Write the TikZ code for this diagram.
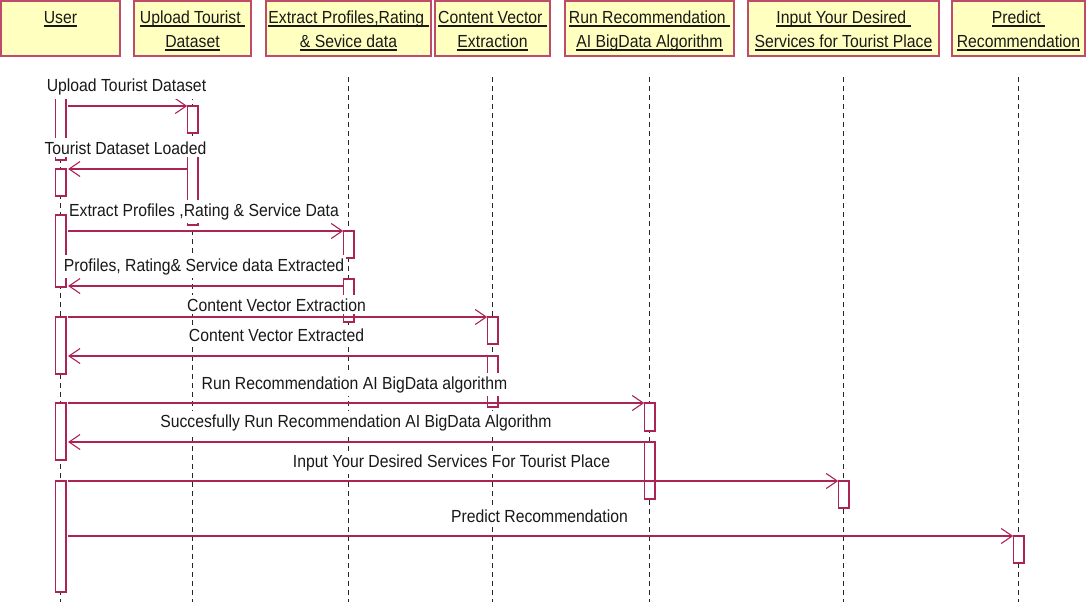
\documentclass[tikz,border=0pt]{standalone}
\usepackage{fontspec}
\setmainfont{Liberation Sans}[FakeStretch=0.9]
\usetikzlibrary{arrows.meta}

\definecolor{hdrfill}{RGB}{255,255,192}
\definecolor{hdrline}{RGB}{190,75,105}
\definecolor{seqline}{RGB}{172,35,85}
\definecolor{txt}{RGB}{25,25,25}

\newcommand\lblfont{\fontsize{17.5}{24}\selectfont}

% underlined header line: rule sits just under the baseline
\newsavebox\ulbox
\newcommand\ulin[1]{\sbox\ulbox{#1}\rlap{\rule[-2.6pt]{\wd\ulbox}{1.3pt}}\usebox\ulbox}

% activation bar: style, name, x, top, bottom
\newcommand\actbar[5]{\node[#1, minimum height=#5pt-#4pt, anchor=north] (#2) at (#3,#4) {};}

\begin{document}
\begin{tikzpicture}[x=1pt,y=-1pt,
  hdrbox/.style={draw=hdrline, fill=hdrfill, line width=1.7pt, rectangle,
                 inner sep=0pt, outer sep=0pt, anchor=north west, minimum height=55pt},
  hdrtext/.style={anchor=base, inner sep=0pt, font=\lblfont, text=txt},
  actbox/.style={draw=seqline, fill=white, line width=1.4pt, rectangle,
                 inner sep=0pt, outer sep=0pt, minimum width=10.6pt},
  userbox/.style={actbox, outer xsep=2.3pt},
  life/.style={draw=black!85, line width=1pt, dash pattern=on 5pt off 4pt},
  msg/.style={draw=seqline, line width=1.4pt,
              -{Straight Barb[length=11pt,width=15pt,line width=1.1pt]}},
  lbl/.style={anchor=base, fill=white, inner xsep=2pt, inner ysep=3pt,
              font=\lblfont, text=txt}]

\useasboundingbox (0,0) rectangle (1086,602);

% object headers
\node[hdrbox, minimum width=119pt] (hUser)    at (1,1)   {};
\node[hdrbox, minimum width=117pt] (hUpload)  at (134,1) {};
\node[hdrbox, minimum width=165pt] (hExtract) at (266,1) {};
\node[hdrbox, minimum width=115pt] (hVector)  at (435,1) {};
\node[hdrbox, minimum width=169pt] (hRun)     at (565,1) {};
\node[hdrbox, minimum width=191pt] (hInput)   at (748,1) {};
\node[hdrbox, minimum width=133pt] (hPredict) at (952,1) {};

\node[hdrtext] (tUser)     at (60.5,24)   {\ulin{User}};
\node[hdrtext] (tUploadA)  at (192.5,24)  {\ulin{Upload Tourist\ }};
\node[hdrtext] (tUploadB)  at (192.5,48)  {\ulin{Dataset}};
\node[hdrtext] (tExtractA) at (348.5,24)  {\ulin{Extract Profiles,Rating\ }};
\node[hdrtext] (tExtractB) at (348.5,48)  {\ulin{\& Sevice data}};
\node[hdrtext] (tVectorA)  at (492.5,24)  {\ulin{Content Vector\ }};
\node[hdrtext] (tVectorB)  at (492.5,48)  {\ulin{Extraction}};
\node[hdrtext] (tRunA)     at (649.5,24)  {\ulin{Run Recommendation\ }};
\node[hdrtext] (tRunB)     at (649.5,48)  {\ulin{AI BigData Algorithm}};
\node[hdrtext] (tInputA)   at (843.5,24)  {\ulin{Input Your Desired\ }};
\node[hdrtext] (tInputB)   at (843.5,48)  {\ulin{Services for Tourist Place}};
\node[hdrtext] (tPredictA) at (1018.5,24) {\ulin{Predict\ }};
\node[hdrtext] (tPredictB) at (1018.5,48) {\ulin{Recommendation}};

% lifelines
\coordinate (lifetop) at (0,77);
\coordinate (lifebot) at (0,602);
\foreach \h in {hUser,hUpload,hExtract,hVector,hRun,hInput,hPredict}
  \draw[life] (\h.south |- lifetop) -- (\h.south |- lifebot);

% activation bars
\actbar{userbox}{u1}{60.5}{90}{160}
\actbar{userbox}{u2}{60.5}{169}{196}
\actbar{userbox}{u3}{60.5}{215}{287}
\actbar{userbox}{u4}{60.5}{317}{374}
\actbar{userbox}{u5}{60.5}{403}{460}
\actbar{userbox}{u6}{60.5}{481}{592}
\actbar{actbox}{up1}{192.5}{106}{133}
\actbar{actbox}{up2}{192.5}{150}{225}
\actbar{actbox}{ex1}{348.5}{231}{258}
\actbar{actbox}{ex2}{348.5}{279}{322}
\actbar{actbox}{cv1}{492.5}{317}{344}
\actbar{actbox}{cv2}{492.5}{356}{407}
\actbar{actbox}{rr1}{649.5}{403}{431}
\actbar{actbox}{rr2}{649.5}{442}{499}
\actbar{actbox}{in1}{843.5}{481}{508}
\actbar{actbox}{pr1}{1018.5}{536}{563}

% messages
\coordinate (y2) at (0,169);
\coordinate (y4) at (0,286);
\draw[msg] (u1.east |- up1.north) -- (up1.north west);
\draw[msg] (up2.west |- y2) -- (u2.north east);
\draw[msg] (u3.east |- ex1.north) -- (ex1.north west);
\draw[msg] (ex2.west |- y4) -- (u3.east |- y4);
\draw[msg] (u4.north east) -- (cv1.north west);
\draw[msg] (cv2.north east) -- (u4.east |- cv2.north);
\draw[msg] (u5.north east) -- (rr1.north west);
\draw[msg] (rr2.north east) -- (u5.east |- rr2.north);
\draw[msg] (u6.north east) -- (in1.north west);
\draw[msg] (u6.east |- pr1.north) -- (pr1.north west);

% message labels
\node[lbl] (l1)  at (126.5,92)  {Upload Tourist Dataset};
\node[lbl] (l2)  at (125.5,154) {Tourist Dataset Loaded};
\node[lbl] (l3)  at (204,216)   {Extract Profiles ,Rating \& Service Data};
\node[lbl] (l4)  at (204,271)   {Profiles, Rating\& Service data Extracted};
\node[lbl] (l5)  at (276.5,311) {Content Vector Extraction};
\node[lbl] (l6)  at (276.5,341) {Content Vector Extracted};
\node[lbl] (l7)  at (354.5,389) {Run Recommendation AI BigData algorithm};
\node[lbl] (l8)  at (356,427)   {Succesfully Run Recommendation AI BigData Algorithm};
\node[lbl] (l9)  at (451.5,467) {Input Your Desired Services For Tourist Place};
\node[lbl] (l10) at (539.5,522) {Predict Recommendation};
\end{tikzpicture}
\end{document}
